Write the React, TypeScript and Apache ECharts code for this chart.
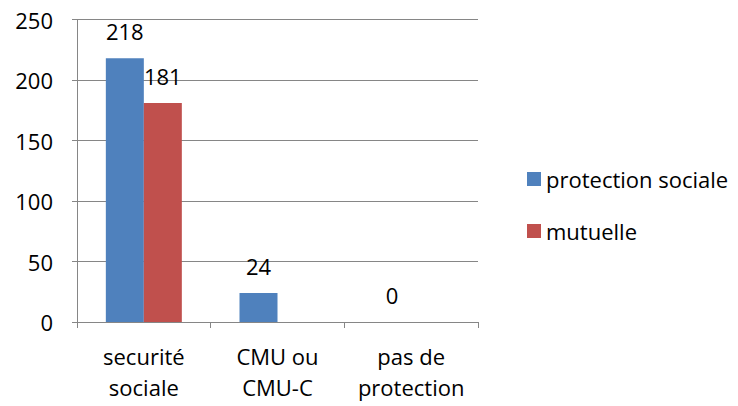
import React, { useEffect, useRef } from "react";
import * as echarts from "echarts";

const categories = ["securité\nsociale", "CMU ou\nCMU-C", "pas de\nprotection"];
const protectionSociale = [218, 24, 0];
const mutuelle: (number | null)[] = [181, null, null];
const seriesNames = ["protection sociale", "mutuelle"];

const FONT = "'Open Sans', 'Noto Sans', sans-serif";
const FS = 22;

export default function App() {
  const ref = useRef<HTMLDivElement>(null);
  useEffect(() => {
    if (!ref.current) return;
    const chart = echarts.init(ref.current, undefined, { renderer: "svg" });
    chart.setOption({
      animation: false,
      textStyle: { fontFamily: FONT },
      grid: { left: 77, right: 260, top: 19.5, bottom: 84, containLabel: false },
      legend: {
        orient: "vertical",
        left: 522,
        top: 163,
        itemWidth: 14,
        itemHeight: 14,
        itemGap: 30,
        icon: "rect",
        textStyle: { fontSize: FS, color: "#000", fontFamily: FONT },
        data: seriesNames,
      },
      xAxis: {
        type: "category",
        data: categories,
        axisLine: { lineStyle: { color: "#868686", width: 1 } },
        axisTick: { show: true, length: 6, lineStyle: { color: "#868686" } },
        axisLabel: { color: "#000", fontSize: FS, margin: 18, lineHeight: 31, interval: 0, hideOverlap: false, fontFamily: FONT },
      },
      yAxis: {
        type: "value",
        min: 0,
        max: 250,
        interval: 50,
        axisLine: { show: true, lineStyle: { color: "#868686", width: 1 } },
        axisTick: { show: true, length: 5, lineStyle: { color: "#868686" } },
        axisLabel: { color: "#000", fontSize: FS, margin: 24, fontFamily: FONT },
        splitLine: { show: true, lineStyle: { color: "#868686", width: 1 } },
      },
      series: [
        {
          name: seriesNames[0],
          type: "bar",
          data: protectionSociale,
          barWidth: 38,
          barGap: "0%",
          itemStyle: { color: "#4F81BD" },
          label: { show: true, position: "top", distance: 16, color: "#000", fontSize: FS, fontFamily: FONT },
        },
        {
          name: seriesNames[1],
          type: "bar",
          data: mutuelle,
          barWidth: 38,
          barGap: "0%",
          itemStyle: { color: "#C0504D" },
          label: { show: true, position: "top", distance: 16, color: "#000", fontSize: FS, fontFamily: FONT },
        },
      ],
    });
    return () => chart.dispose();
  }, []);
  return <div ref={ref} style={{ width: 738, height: 406, position: "absolute", left: 0, top: 0 }} />;
}
